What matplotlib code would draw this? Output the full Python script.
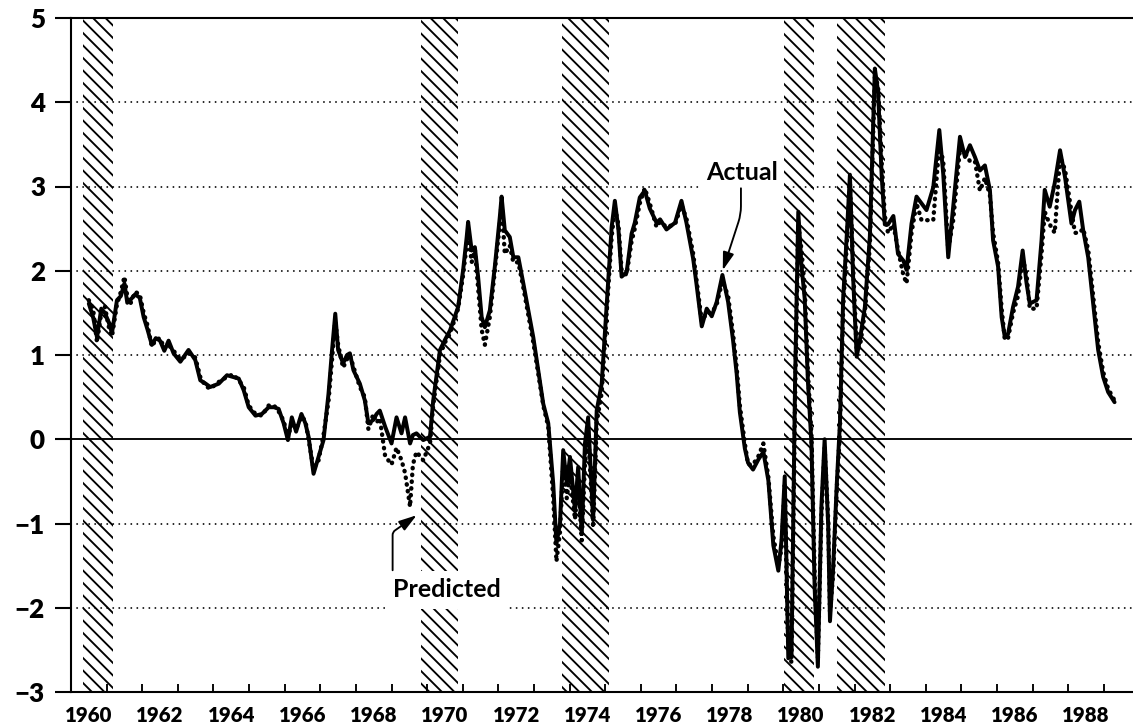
import numpy as np
import matplotlib.pyplot as plt

plt.rcParams["font.family"] = ["Lato", "DejaVu Sans"]
plt.rcParams["hatch.linewidth"] = 1.8

# recession periods (start, end), decimal years
recessions = [(1960.33, 1961.17), (1969.82, 1970.87), (1973.79, 1975.10),
              (1980.03, 1980.86), (1981.52, 1982.85)]

dates = [
    1960.50, 1960.62, 1960.73, 1960.85, 1960.95, 1961.05, 1961.15, 1961.29, 1961.40, 1961.50,
    1961.58, 1961.66, 1961.80, 1961.93, 1962.04, 1962.15, 1962.27, 1962.38, 1962.50, 1962.62,
    1962.74, 1962.88, 1963.07, 1963.20, 1963.30, 1963.49, 1963.63, 1963.78, 1963.91, 1964.15,
    1964.38, 1964.55, 1964.71, 1964.85, 1964.99, 1965.18, 1965.36, 1965.55, 1965.70, 1965.83,
    1965.97, 1966.09, 1966.20, 1966.32, 1966.47, 1966.58, 1966.67, 1966.81, 1966.95, 1967.09,
    1967.23, 1967.33, 1967.42, 1967.50, 1967.64, 1967.75, 1967.83, 1967.93, 1968.11, 1968.25,
    1968.35, 1968.49, 1968.58, 1968.67, 1968.82, 1969.00, 1969.14, 1969.28, 1969.38, 1969.52,
    1969.60, 1969.70, 1969.89, 1970.08, 1970.17, 1970.36, 1970.50, 1970.64, 1970.87, 1971.01,
    1971.11, 1971.15, 1971.25, 1971.34, 1971.43, 1971.53, 1971.62, 1971.76, 1971.90, 1972.04,
    1972.09, 1972.18, 1972.32, 1972.42, 1972.56, 1972.70, 1972.98, 1973.26, 1973.40, 1973.54,
    1973.63, 1973.73, 1973.82, 1973.92, 1974.01, 1974.15, 1974.24, 1974.34, 1974.43, 1974.52,
    1974.66, 1974.76, 1974.90, 1975.04, 1975.18, 1975.27, 1975.37, 1975.46, 1975.60, 1975.74,
    1975.83, 1975.97, 1976.11, 1976.25, 1976.44, 1976.54, 1976.72, 1976.96, 1977.14, 1977.28,
    1977.47, 1977.56, 1977.71, 1977.85, 1977.99, 1978.13, 1978.29, 1978.45, 1978.59, 1978.69,
    1978.78, 1978.92, 1979.01, 1979.15, 1979.30, 1979.44, 1979.58, 1979.72, 1979.86, 1979.95,
    1980.04, 1980.14, 1980.23, 1980.33, 1980.42, 1980.51, 1980.60, 1980.69, 1980.79, 1980.88,
    1980.97, 1981.07, 1981.16, 1981.26, 1981.31, 1981.40, 1981.50, 1981.59, 1981.68, 1981.78,
    1981.87, 1981.96, 1982.06, 1982.15, 1982.29, 1982.43, 1982.57, 1982.66, 1982.76, 1982.85,
    1982.94, 1983.09, 1983.22, 1983.37, 1983.46, 1983.60, 1983.74, 1983.88, 1984.02, 1984.21,
    1984.38, 1984.49, 1984.63, 1984.77, 1984.96, 1985.10, 1985.24, 1985.38, 1985.52, 1985.66,
    1985.80, 1985.89, 1986.03, 1986.13, 1986.22, 1986.31, 1986.45, 1986.59, 1986.72, 1986.83,
    1986.92, 1987.11, 1987.25, 1987.34, 1987.48, 1987.62, 1987.77, 1987.91, 1988.09, 1988.19,
    1988.31, 1988.42, 1988.56, 1988.70, 1988.84, 1988.98, 1989.12, 1989.30,
]

actual = [
    1.61, 1.45, 1.21, 1.55, 1.50, 1.40, 1.26, 1.65, 1.70, 1.85,
    1.62, 1.65, 1.72, 1.68, 1.45, 1.30, 1.12, 1.20, 1.17, 1.05,
    1.17, 1.02, 0.92, 1.00, 1.06, 0.94, 0.70, 0.66, 0.62, 0.66,
    0.76, 0.74, 0.72, 0.58, 0.38, 0.28, 0.30, 0.38, 0.38, 0.36,
    0.19, -0.01, 0.26, 0.09, 0.30, 0.19, 0.03, -0.41, -0.21, -0.01,
    0.54, 1.06, 1.49, 1.06, 0.90, 1.00, 1.02, 0.82, 0.66, 0.46,
    0.19, 0.23, 0.30, 0.34, 0.15, -0.05, 0.26, 0.07, 0.26, -0.05,
    0.05, 0.07, -0.01, 0.03, 0.46, 1.06, 1.18, 1.29, 1.57, 2.01,
    2.40, 2.58, 2.24, 2.28, 1.93, 1.45, 1.33, 1.53, 2.05, 2.64,
    2.88, 2.48, 2.40, 2.16, 2.16, 1.85, 1.21, 0.42, 0.19, -0.53,
    -1.24, -1.00, -0.13, -0.53, -0.21, -0.84, -0.33, -1.12, -0.05, 0.26,
    -0.96, 0.34, 0.66, 1.60, 2.52, 2.83, 2.49, 1.93, 1.98, 2.44,
    2.57, 2.87, 2.95, 2.74, 2.57, 2.61, 2.49, 2.57, 2.83, 2.57,
    2.14, 1.85, 1.34, 1.55, 1.46, 1.63, 1.95, 1.63, 1.17, 0.78,
    0.32, -0.11, -0.28, -0.36, -0.24, -0.15, -0.49, -1.26, -1.56, -1.20,
    -0.44, -2.60, -2.56, 0.69, 2.70, 2.06, 1.67, 0.69, -0.05, -1.77,
    -2.70, -0.79, 0.00, -1.03, -2.16, -1.52, -0.54, 0.20, 1.67, 2.41,
    3.14, 1.92, 0.98, 1.18, 1.57, 2.41, 4.40, 4.13, 3.14, 2.55,
    2.55, 2.65, 2.20, 2.12, 2.01, 2.56, 2.88, 2.80, 2.72, 2.99,
    3.67, 3.15, 2.16, 2.76, 3.59, 3.35, 3.49, 3.35, 3.19, 3.25,
    2.96, 2.36, 2.05, 1.45, 1.21, 1.25, 1.57, 1.81, 2.24, 1.85,
    1.61, 1.65, 2.36, 2.96, 2.76, 3.04, 3.43, 3.11, 2.56, 2.72,
    2.82, 2.48, 2.16, 1.61, 1.06, 0.74, 0.56, 0.44,
]

predicted = [
    1.65, 1.55, 1.15, 1.50, 1.58, 1.35, 1.22, 1.60, 1.75, 1.93,
    1.70, 1.60, 1.75, 1.72, 1.50, 1.35, 1.10, 1.18, 1.20, 1.08,
    1.12, 1.05, 0.95, 0.98, 1.02, 0.97, 0.74, 0.63, 0.60, 0.68,
    0.74, 0.77, 0.70, 0.62, 0.40, 0.30, 0.28, 0.40, 0.40, 0.33,
    0.22, 0.02, 0.20, 0.12, 0.27, 0.22, 0.00, -0.35, -0.25, 0.05,
    0.45, 0.95, 1.40, 1.12, 0.85, 0.95, 1.00, 0.86, 0.62, 0.50,
    0.12, 0.30, 0.20, 0.25, -0.20, -0.30, -0.10, -0.25, -0.40, -0.80,
    -0.30, -0.15, -0.25, -0.05, 0.40, 1.00, 1.15, 1.25, 1.55, 1.95,
    2.30, 2.45, 2.10, 2.25, 1.80, 1.30, 1.12, 1.45, 2.00, 2.55,
    2.80, 2.20, 2.30, 2.10, 2.10, 1.80, 1.15, 0.40, 0.15, -0.70,
    -1.45, -1.10, -0.30, -0.70, -0.40, -0.95, -0.50, -1.20, -0.30, 0.10,
    -1.05, 0.20, 0.55, 1.50, 2.40, 2.75, 2.55, 2.00, 1.95, 2.35,
    2.50, 2.80, 2.98, 2.80, 2.52, 2.58, 2.52, 2.55, 2.78, 2.62,
    2.20, 1.90, 1.40, 1.50, 1.50, 1.60, 1.88, 1.70, 1.25, 0.85,
    0.40, -0.05, -0.30, -0.30, -0.20, -0.05, -0.45, -1.15, -1.50, -1.30,
    -0.55, -2.50, -2.65, 0.50, 2.55, 2.25, 1.80, 0.80, 0.05, -1.60,
    -2.60, -0.90, -0.10, -0.95, -2.05, -1.60, -0.60, 0.10, 1.55, 2.30,
    3.05, 2.05, 1.05, 1.10, 1.50, 2.30, 4.30, 4.20, 3.30, 2.65,
    2.45, 2.55, 2.25, 1.95, 1.85, 2.45, 2.80, 2.60, 2.60, 2.60,
    3.50, 3.30, 2.25, 2.60, 3.45, 3.40, 3.30, 3.30, 2.95, 3.10,
    2.90, 2.45, 2.10, 1.55, 1.18, 1.20, 1.50, 1.70, 2.15, 1.95,
    1.55, 1.55, 2.20, 2.70, 2.55, 2.45, 3.35, 3.20, 2.70, 2.45,
    2.45, 2.50, 2.25, 1.70, 1.15, 0.80, 0.60, 0.46,
]

year_labels = list(range(1960, 1989, 2))
y_ticks = list(range(-3, 6))
grid_levels = [-2, -1, 1, 2, 3, 4]

fig = plt.figure(figsize=(1133 / 75, 727 / 75), dpi=75)
ax = fig.add_axes([71 / 1133, 1 - 692 / 727, 1061 / 1133, 674 / 727])
ax.set_xlim(1960, 1989.79)
ax.set_ylim(-3, 5)

# hatched recession bands
for start, end in recessions:
    ax.axvspan(start, end, facecolor="none", edgecolor="black",
               hatch="\\\\", linewidth=0, zorder=1)

# dotted horizontal guides and the zero line
for g in grid_levels:
    ax.axhline(g, color="black", lw=1.7, dashes=(0.1, 3.3),
               dash_capstyle="round", zorder=1.5)
ax.axhline(0, color="black", lw=1.8, zorder=2)

ax.plot(dates, predicted, color="black", lw=4.2, dashes=(0.1, 1.45),
        dash_capstyle="round", zorder=3)
ax.plot(dates, actual, color="black", lw=3.8, solid_joinstyle="round",
        solid_capstyle="round", zorder=3.5)

# axes styling
for side in ["left", "bottom", "top"]:
    ax.spines[side].set_linewidth(2.0)
ax.spines["right"].set_visible(False)

ax.set_xticks([y + 0.5 for y in year_labels])
ax.set_xticklabels([str(y) for y in year_labels], fontsize=19.5,
                   fontweight="heavy")
ax.set_xticks(np.arange(1960, 1990), minor=True)
ax.tick_params(axis="x", which="major", length=0, pad=13)
ax.tick_params(axis="x", which="minor", direction="in", length=8, width=1.8)

ax.set_yticks(y_ticks)
ax.set_yticklabels([str(v).replace("-", "\u2212") for v in y_ticks],
                   fontsize=25, fontweight="heavy")
ax.tick_params(axis="y", direction="out", length=15, width=2.0, pad=10)

# labels with arrows
ax.text(1978.83, 3.074, "Actual", ha="center", va="baseline", fontsize=24,
        fontweight="bold", zorder=5,
        bbox=dict(boxstyle="square,pad=0.2", fc="white", ec="none"))
ax.annotate("", xy=(1978.30, 2.006), xytext=(1978.81, 2.979),
            arrowprops=dict(arrowstyle="-|>,head_length=0.8,head_width=0.25",
                            color="black", lw=1.8, shrinkA=0, shrinkB=0,
                            mutation_scale=18,
                            connectionstyle="angle,angleA=-90,angleB=72,rad=8"),
            zorder=6)

ax.text(1970.547, -1.875, "Predicted", ha="center", va="baseline", fontsize=24,
        fontweight="bold", zorder=5,
        bbox=dict(boxstyle="square,pad=0.3", fc="white", ec="none"))
ax.annotate("", xy=(1969.705, -0.902), xytext=(1969.03, -1.555),
            arrowprops=dict(arrowstyle="-|>,head_length=0.8,head_width=0.25",
                            color="black", lw=1.8, shrinkA=0, shrinkB=0,
                            mutation_scale=18,
                            connectionstyle="angle,angleA=90,angleB=35,rad=3"),
            zorder=6)

fig.savefig("out.png", dpi=75)
